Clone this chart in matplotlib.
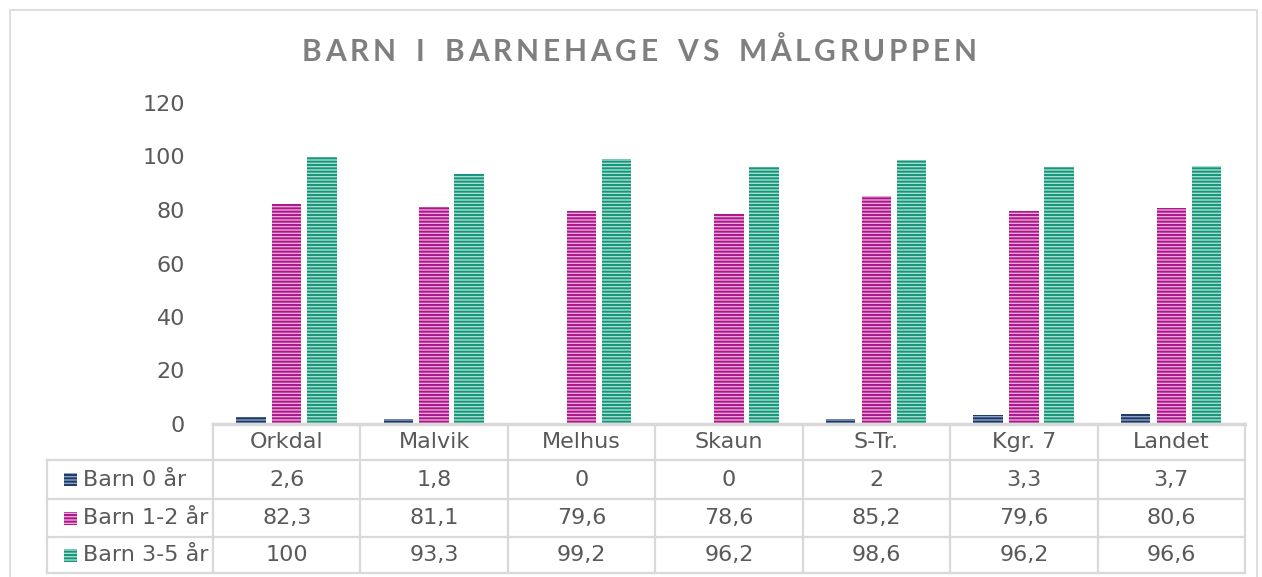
import matplotlib
matplotlib.use("Agg")
import matplotlib.pyplot as plt
from matplotlib.patches import Rectangle
from matplotlib.lines import Line2D
import numpy as np

categories = ["Orkdal", "Malvik", "Melhus", "Skaun", "S-Tr.", "Kgr. 7", "Landet"]
series_names = ["Barn 0 år", "Barn 1-2 år", "Barn 3-5 år"]
barn_0 = [2.6, 1.8, 0, 0, 2, 3.3, 3.7]
barn_1_2 = [82.3, 81.1, 79.6, 78.6, 85.2, 79.6, 80.6]
barn_3_5 = [100, 93.3, 99.2, 96.2, 98.6, 96.2, 96.6]
labels_0 = ["2,6", "1,8", "0", "0", "2", "3,3", "3,7"]
labels_1_2 = ["82,3", "81,1", "79,6", "78,6", "85,2", "79,6", "80,6"]
labels_3_5 = ["100", "93,3", "99,2", "96,2", "98,6", "96,2", "96,6"]
yticks = [0, 20, 40, 60, 80, 100, 120]
title = "BARN I BARNEHAGE VS MÅLGRUPPEN"

series = [barn_0, barn_1_2, barn_3_5]
row_labels = [labels_0, labels_1_2, labels_3_5]
dark_cols = ["#1D3A66", "#AC168A", "#14967C"]
light_cols = ["#8FA3C4", "#EBA8D8", "#A8DDCE"]

plt.rcParams['hatch.linewidth'] = 1.4
W, H = 1262, 577
fig = plt.figure(figsize=(W / 100, H / 100), dpi=100)

def fx(px):
    return px / W

def fy(py):
    return 1 - py / H

ax_l, ax_r, ax_t, ax_b = 213, 1245, 103, 424
ax = fig.add_axes([fx(ax_l), fy(ax_b), fx(ax_r) - fx(ax_l), fy(ax_t) - fy(ax_b)])
x = np.arange(len(categories))
offsets = [-0.243, 0.0, 0.238]
for vals, off, dc, lc in zip(series, offsets, dark_cols, light_cols):
    ax.bar(x + off, vals, width=0.2, color=lc, edgecolor=dc, hatch='-----', linewidth=0)

ax.set_xlim(-0.5, len(categories) - 0.5)
ax.set_ylim(0, 120)
ax.set_yticks(yticks)
ax.set_yticklabels([str(t) for t in yticks])
ax.tick_params(axis='y', length=0, pad=20, labelsize=16, labelcolor="#595959")
ax.set_xticks([])
for s in ["top", "right", "left"]:
    ax.spines[s].set_visible(False)
ax.spines["bottom"].set_color("#D9D9D9")
ax.spines["bottom"].set_linewidth(2.5)

# Table
line_col = "#D9D9D9"
col_edges = [213 + i * (1245 - 213) / 7 for i in range(8)]
row_edges = [424, 460, 499, 537, 573]
lw = 1.6

def hline(y, x0, x1):
    fig.add_artist(Line2D([fx(x0), fx(x1)], [fy(y), fy(y)], color=line_col, lw=lw))

def vline(xp, y0, y1):
    fig.add_artist(Line2D([fx(xp), fx(xp)], [fy(y0), fy(y1)], color=line_col, lw=lw))

for r in row_edges[1:]:
    hline(r, 47, 1245)
for c in col_edges:
    vline(c, 424, 573)
vline(47, 460, 573)

txt_col = "#595959"
fs = 16
for i, cat in enumerate(categories):
    cx = (col_edges[i] + col_edges[i + 1]) / 2
    fig.text(fx(cx), fy((row_edges[0] + row_edges[1]) / 2), cat, ha='center', va='center',
             fontsize=fs, color=txt_col)
    for r, labs in enumerate(row_labels):
        cy = (row_edges[r + 1] + row_edges[r + 2]) / 2
        fig.text(fx(cx), fy(cy), labs[i], ha='center', va='center', fontsize=fs, color=txt_col)

for r, name in enumerate(series_names):
    cy = (row_edges[r + 1] + row_edges[r + 2]) / 2
    fig.add_artist(Rectangle((fx(64), fy(cy + 6.5)), fx(13), fy(cy - 6.5) - fy(cy + 6.5),
                             facecolor=light_cols[r], edgecolor=dark_cols[r], hatch='-----',
                             linewidth=0, transform=fig.transFigure))
    fig.text(fx(83), fy(cy), name, ha='left', va='center', fontsize=fs, color=txt_col)

# Title with letter spacing: place characters individually
renderer = fig.canvas.get_renderer()
title_left, title_right, title_baseline = 302, 977, 61
tfs = 21.5
tfont = dict(fontsize=tfs, fontweight='bold', family='Lato')
chars = list(title)
widths = []
for ch in chars:
    t = fig.text(0, 0, "A" if ch == " " else ch, **tfont)
    w = t.get_window_extent(renderer).width
    t.remove()
    widths.append(w * 0.6 if ch == " " else w)
track = ((title_right - title_left) - sum(widths)) / (len(chars) - 1)
pos = title_left
for ch, w in zip(chars, widths):
    if ch != " ":
        fig.text(fx(pos), fy(title_baseline), ch, ha='left', va='baseline',
                 color="#7F7F7F", **tfont)
    pos += w + track

# Outer border
fig.add_artist(Rectangle((fx(10), fy(590)), fx(1257) - fx(10), fy(10) - fy(590),
                         facecolor='none', edgecolor="#D9D9D9", lw=1.2,
                         transform=fig.transFigure))

fig.savefig("out.png", dpi=100)
